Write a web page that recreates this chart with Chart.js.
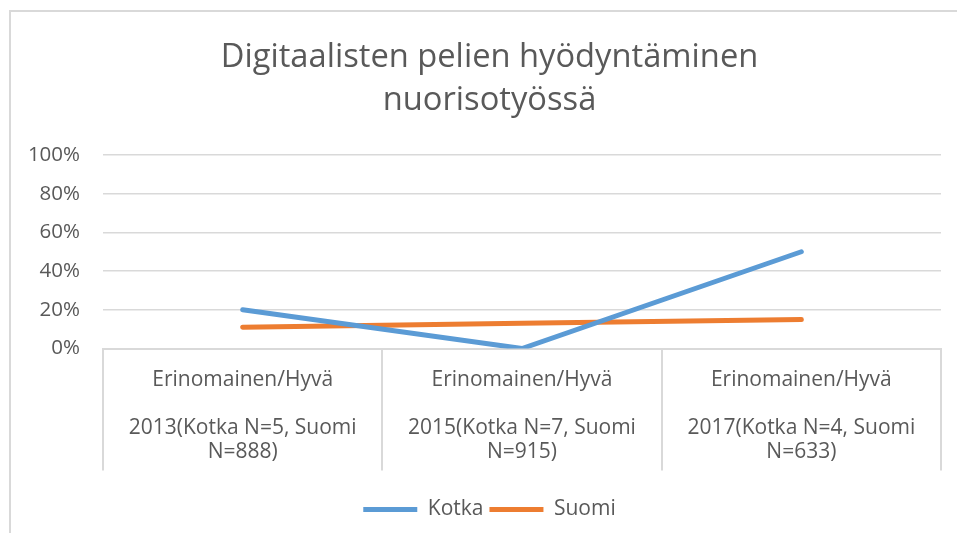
<!DOCTYPE html>
<html>
<head>
<meta charset="utf-8">
<script src="https://cdn.jsdelivr.net/npm/chart.js@4/dist/chart.umd.min.js"></script>
<style>
  body { margin: 0; background: #fff; }
  #frame { position: absolute; left: 9px; top: 10px; width: 960px; height: 540px;
           border-left: 2px solid #d9d9d9; border-top: 2px solid #d9d9d9; }
  #chart { position: absolute; left: 0; top: 0; }
</style>
</head>
<body>
<div id="frame"></div>
<canvas id="chart" width="957" height="533"></canvas>
<script>
// Data
var years = ["2013", "2015", "2017"];
var kotkaN = [5, 7, 4];
var suomiN = [888, 915, 633];
var kotka = [20, 0, 50];
var suomi = [11, 13, 15];
var yTicks = [0, 20, 40, 60, 80, 100];

var textColor = '#595959';
var gridColor = '#d9d9d9';
var fontFamily = '"Open Sans", Lato, sans-serif';

// Two level category labels, like the Excel original
var labels = [];
for (var i = 0; i < years.length; i++) {
	labels.push(["Erinomainen/Hyvä", "", years[i] + "(Kotka N=" + kotkaN[i] + ", Suomi", "N=" + suomiN[i] + ")"]);
}

// y labels stick out left of the narrow y axis, so don't clip them
var unclipY = {
	id: 'unclipY',
	afterLayout: function (chart) { chart.scales.y.left = 0; }
};

var ctx = document.getElementById('chart').getContext('2d');
new Chart(ctx, {
	type: 'line',
	data: {
		labels: labels,
		datasets: [
			{ label: 'Kotka', data: kotka, borderColor: '#5b9bd5', backgroundColor: '#5b9bd5',
			  borderWidth: 5, borderCapStyle: 'round', borderJoinStyle: 'round', pointRadius: 0, tension: 0 },
			{ label: 'Suomi', data: suomi, borderColor: '#ed7d31', backgroundColor: '#ed7d31',
			  borderWidth: 5, borderCapStyle: 'round', borderJoinStyle: 'round', pointRadius: 0, tension: 0 }
		]
	},
	plugins: [unclipY],
	options: {
		responsive: false,
		animation: false,
		devicePixelRatio: 1,
		layout: { padding: { left: 38, right: 16, top: 0, bottom: 3 } },
		plugins: {
			title: {
				display: true,
				text: ['Digitaalisten pelien hyödyntäminen', 'nuorisotyössä'],
				color: textColor,
				font: { family: fontFamily, size: 32.7, weight: 'normal', lineHeight: 1.315 },
				padding: { top: 36.5, bottom: 32.5 }
			},
			legend: {
				position: 'bottom',
				labels: {
					usePointStyle: true,
					pointStyle: 'line',
					pointStyleWidth: 54,
					boxHeight: 5,
					color: textColor,
					padding: 6,
					font: { family: fontFamily, size: 21 }
				}
			},
			tooltip: { enabled: false }
		},
		scales: {
			x: {
				offset: true,
				grid: { offset: true, drawOnChartArea: false, drawTicks: true, tickLength: 122, color: gridColor, lineWidth: 2 },
				border: { display: true, color: gridColor, width: 2 },
				ticks: { color: textColor, padding: -102, maxRotation: 0, autoSkip: false,
				         font: { family: fontFamily, size: 21, lineHeight: 1.143 } },
				afterFit: function (scale) { scale.height = 144.5; }
			},
			y: {
				min: 0, max: 100,
				afterBuildTicks: function (scale) {
					scale.ticks = yTicks.map(function (v) { return { value: v }; });
				},
				grid: { color: gridColor, lineWidth: 1.5, drawTicks: false },
				border: { display: false },
				ticks: { color: textColor, padding: 23, font: { family: fontFamily, size: 20.5 },
				         callback: function (v) { return v + '%'; } },
				afterFit: function (scale) { scale.width = 65; }
			}
		}
	}
});
</script>
</body>
</html>
